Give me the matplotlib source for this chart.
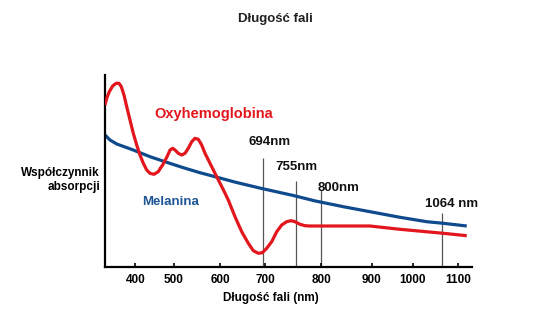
import matplotlib
matplotlib.use("Agg")
import matplotlib.pyplot as plt
import numpy as np

plt.rcParams["font.family"] = ["Liberation Sans", "DejaVu Sans"]

# wavelength (nm) and relative absorption (arbitrary units)
oxy_nm = [340, 343.4, 348.5, 355.2, 361.8, 367.7, 372.3, 377.6, 383.0, 389.5,
          396.0, 403.6, 412.1, 420.7, 429.5, 438.0, 448.3, 459.4, 465.6, 470.8,
          474.2, 482.0, 489.8, 496.7, 502.2, 509.3, 516.7, 523.9, 531.1, 538.5,
          545.7, 552.8, 560.2, 567.4, 578.3, 589.1, 600, 611.0, 618.3, 633.1,
          647.9, 662.5, 673.5, 684.6, 693.4, 702.5, 711.5, 720.5, 729.4, 738.4,
          746.1, 753.3, 762.3, 771.3, 780.2, 798.2, 837.5, 896.6, 969.0, 1067.1,
          1118.5]
oxy_abs = [161.7, 168.4, 175, 180.7, 183.4, 183.4, 180, 171.7, 160, 146.7,
           133.4, 121.7, 111.7, 103.4, 96.7, 93.4, 92.4, 95, 99, 101.7,
           104.4, 110, 116.7, 118.4, 116.7, 113.4, 111.7, 113.4, 118.4, 125,
           128.4, 127.4, 121.7, 113.4, 103.4, 93.4, 83.5, 73.6, 66.7, 50,
           35, 23.4, 16, 13.4, 14, 18.4, 25, 35, 41.7, 45,
           46, 45, 42.4, 41, 40.7, 40.7, 40.7, 40.7, 37.4, 33.4,
           31]

mel_nm = [340, 349.9, 363.2, 396.0, 438.0, 481.2, 520.2, 556.5, 589.1, 633.1,
          688.3, 750.3, 789.2, 844.0, 896.6, 969.0, 1030.7, 1067.1, 1118.5]
mel_abs = [131.7, 126.7, 122.7, 116.7, 110, 104.4, 99, 94, 90, 84.6,
           78.6, 71.2, 65.8, 60, 55, 49.4, 45, 43.4, 40.7]

laser_nm = [694, 755, 800, 1064]
laser_top = [108.4, 86, 76.7, 54]
laser_labels = ["694nm", "755nm", "800nm", "1064 nm"]

x_ticks = [400, 500, 600, 700, 800, 900, 1000, 1100]

# the original axis is hand drawn: tick spacing is not even
scale_nm = [340, 400, 500, 600, 700, 800, 900, 1000, 1100, 1130]
scale_px = [105, 135.3, 174, 220, 265.3, 321, 371.7, 412.7, 458.3, 472]


def _fwd(x):
    return np.interp(x, scale_nm, scale_px)


def _inv(x):
    return np.interp(x, scale_px, scale_nm)


RED = "#e3161d"
BLUE = "#0f4a8c"

fig = plt.figure(figsize=(5.5, 3.32), dpi=100)
ax = fig.add_axes([105 / 550, (332 - 266.7) / 332, (472 - 105) / 550, (266.7 - 75) / 332])
ax.set_xscale("function", functions=(_fwd, _inv))
ax.set_xlim(340, 1130)
ax.set_ylim(0, 191.7)

ax.vlines(laser_nm, 0, laser_top, color="#555555", linewidth=0.9, zorder=1)
ax.plot(mel_nm, mel_abs, color=BLUE, linewidth=2.3, solid_capstyle="butt",
        solid_joinstyle="round", zorder=2)
ax.plot(oxy_nm, oxy_abs, color=RED, linewidth=2.3, solid_capstyle="butt",
        solid_joinstyle="round", zorder=3)

label_pos = [(708, 125), (756, 99.4), (834, 79), (1085, 62.7)]
for (lx, ly), txt in zip(label_pos, laser_labels):
    ax.text(lx, ly, txt, ha="center", va="center", fontsize=9.5, fontweight="bold", color="#111111")

ax.text(586, 152.4, "Oxyhemoglobina", ha="center", va="center", fontsize=10.5,
        fontweight="bold", color=RED)
ax.text(491, 65, "Melanina", ha="center", va="center", fontsize=9.5,
        fontweight="bold", color="#1d5596")

ax.spines["top"].set_visible(False)
ax.spines["right"].set_visible(False)
for s in ("left", "bottom"):
    ax.spines[s].set_linewidth(1.6)
    ax.spines[s].set_color("black")
ax.set_xticks(x_ticks)
ax.set_xticklabels([str(t) for t in x_ticks], fontweight="bold", fontsize=8.5)
ax.set_yticks([])
ax.tick_params(axis="x", direction="in", length=3, width=1.2, pad=5)
ax.xaxis.set_minor_locator(matplotlib.ticker.NullLocator())

fig.text(275 / 550, 1 - 19 / 332, "Długość fali", ha="center", va="center",
         fontsize=9.5, fontweight="bold", color="#222222")
fig.text(271 / 550, 1 - 298 / 332, "Długość fali (nm)", ha="center", va="center",
         fontsize=8.5, fontweight="bold")
fig.text(100 / 550, 1 - 180 / 332, "Współczynnik\nabsorpcji", ha="right", va="center",
         fontsize=8.5, fontweight="bold", linespacing=1.25)

fig.savefig("out.png", dpi=100)
